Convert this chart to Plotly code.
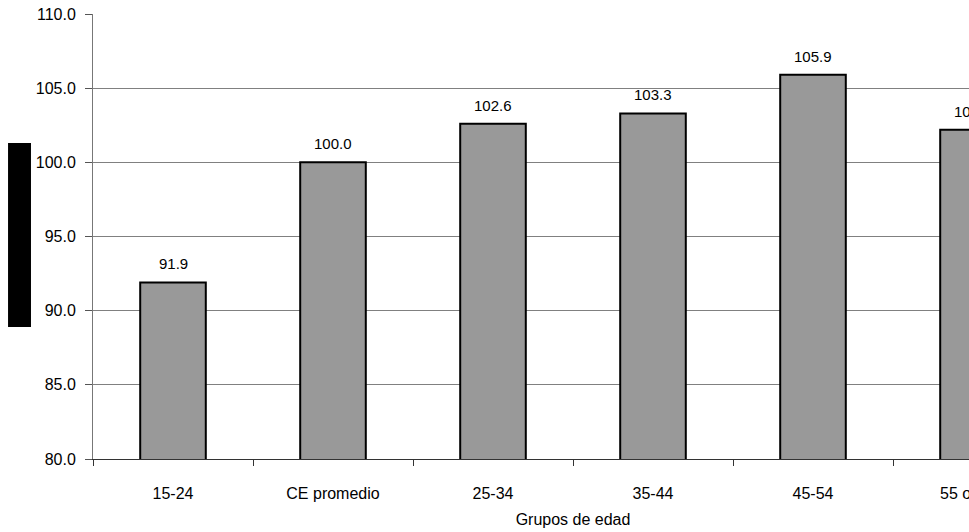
import plotly.graph_objects as go

# Índice por grupo de edad (CE promedio = 100)
grupos = ["15-24", "CE promedio", "25-34", "35-44", "45-54", "55 o más"]
indice = [91.9, 100.0, 102.6, 103.3, 105.9, 102.2]
y_ticks = [80, 85, 90, 95, 100, 105, 110]

FONT = "Liberation Sans, Arial, sans-serif"

fig = go.Figure()
fig.add_trace(go.Bar(
    x=grupos,
    y=indice,
    width=0.41,
    marker=dict(color="#999999", line=dict(color="#000000", width=2)),
    hoverinfo="x+y",
))

# Etiquetas de valor sobre cada barra
for g, v in zip(grupos, indice):
    fig.add_annotation(
        x=g, y=v, text=f"{v:.1f}", showarrow=False,
        yanchor="bottom", yshift=8,
        font=dict(family=FONT, size=15, color="#000000"),
    )

# Bloque negro a la izquierda del eje vertical
fig.add_shape(
    type="rect", xref="paper", yref="paper",
    x0=-0.0885, x1=-0.0646, y0=0.2966, y1=0.7101,
    fillcolor="#000000", line=dict(width=0),
)

fig.update_layout(
    width=1100,
    height=532,
    margin=dict(l=93, r=47, t=14, b=73, autoexpand=False),
    paper_bgcolor="#ffffff",
    plot_bgcolor="#ffffff",
    font=dict(family=FONT, size=16, color="#000000"),
    showlegend=False,
    bargap=0.59,
)

fig.update_xaxes(
    type="category",
    range=[-0.5, 5.5],
    automargin=False,
    tickson="boundaries",
    ticks="outside",
    ticklen=6,
    tickcolor="#333333",
    showline=True,
    linecolor="#333333",
    linewidth=1,
    showgrid=False,
    ticklabelstandoff=20,
    tickfont=dict(family=FONT, size=16),
    title=dict(text="Grupos de edad", standoff=12,
               font=dict(family=FONT, size=16)),
)

fig.update_yaxes(
    range=[80, 110],
    automargin=False,
    tickvals=y_ticks,
    ticktext=[f"{t:.1f}" for t in y_ticks],
    ticks="outside",
    ticklen=7,
    tickcolor="#555555",
    showline=True,
    linecolor="#777777",
    linewidth=1,
    showgrid=True,
    gridcolor="#808080",
    gridwidth=1,
    zeroline=False,
    ticklabelstandoff=6,
    tickfont=dict(family=FONT, size=16),
)

fig.write_html(
    "out.html",
    post_script="document.documentElement.style.overflow='hidden';"
                "document.body.style.overflow='hidden';"
                "document.body.style.margin='0';",
)
